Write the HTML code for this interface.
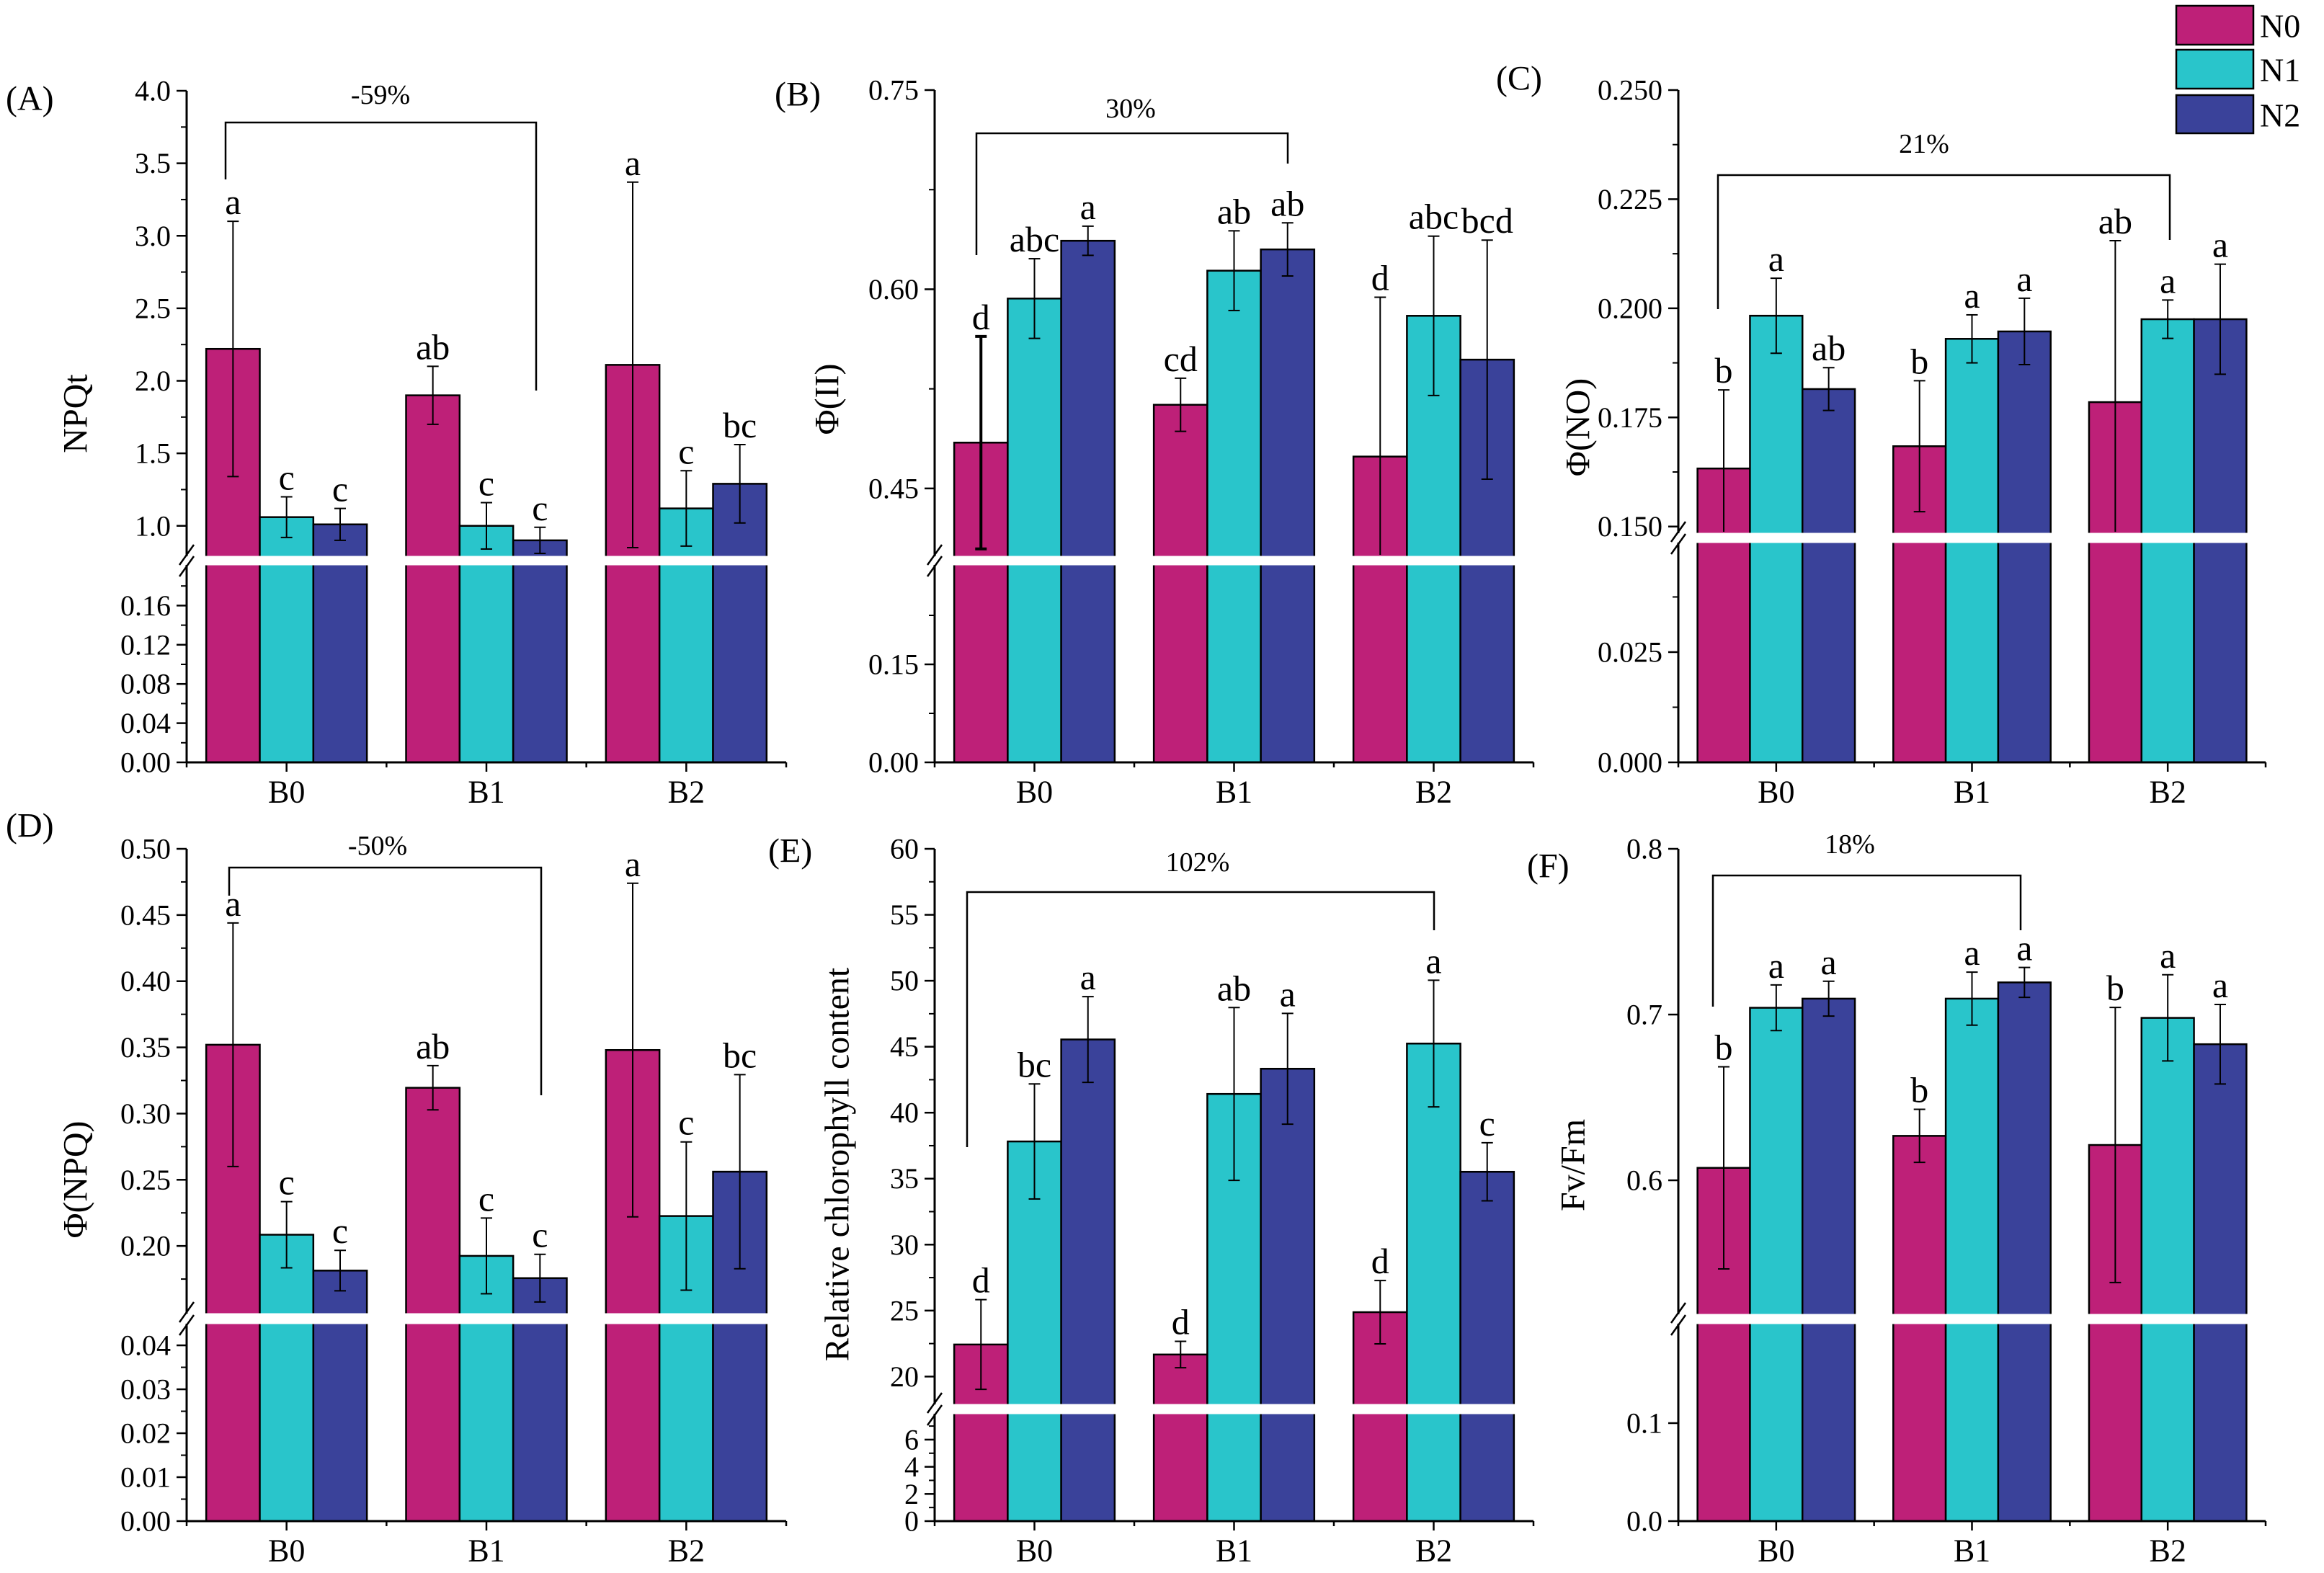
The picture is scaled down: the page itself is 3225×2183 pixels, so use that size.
<!DOCTYPE html>
<html><head><meta charset="utf-8">
<style>
html,body{margin:0;padding:0;background:#fff;}
svg{display:block;font-family:"Liberation Serif",serif;}
</style></head>
<body>
<svg id="fig" width="3225" height="2183" viewBox="0 0 3225 2183" xmlns="http://www.w3.org/2000/svg">
<rect x="0" y="0" width="3225" height="2183" fill="#fff"/>
<g>
<rect x="3020" y="8" width="107" height="54" fill="#BE2078" stroke="#000" stroke-width="2.5"/>
<text x="3136" y="36" font-size="46" dominant-baseline="central">N0</text>
<rect x="3020" y="69" width="107" height="54" fill="#29C5CB" stroke="#000" stroke-width="2.5"/>
<text x="3136" y="97" font-size="46" dominant-baseline="central">N1</text>
<rect x="3020" y="132" width="107" height="53" fill="#3A429A" stroke="#000" stroke-width="2.5"/>
<text x="3136" y="160" font-size="46" dominant-baseline="central">N2</text>
</g>
</svg>
<script>
const categories = ["B0","B1","B2"];
// Panel A NPQt
const A_N0 = [2.22, 1.90, 2.11], A_N1 = [1.06, 1.00, 1.12], A_N2 = [1.01, 0.90, 1.29];
const A_E0 = [0.88, 0.20, 1.26], A_E1 = [0.14, 0.16, 0.26], A_E2 = [0.11, 0.09, 0.27];
const A_L0 = ["a","ab","a"], A_L1 = ["c","c","c"], A_L2 = ["c","c","bc"];
const A_upTicks = [1.0,1.5,2.0,2.5,3.0,3.5,4.0], A_loTicks = [0,0.04,0.08,0.12,0.16];
// Panel B Φ(II)
const B_N0 = [0.4845, 0.513, 0.474], B_N1 = [0.593, 0.614, 0.580], B_N2 = [0.6365, 0.630, 0.547];
const B_E0 = [0.080, 0.020, 0.120], B_E1 = [0.030, 0.030, 0.060], B_E2 = [0.011, 0.020, 0.090];
const B_L0 = ["d","cd","d"], B_L1 = ["abc","ab","abc"], B_L2 = ["a","ab","bcd"];
const B_upTicks = [0.45,0.60,0.75], B_loTicks = [0,0.15];
// Panel C Φ(NO)
const C_N0 = [0.1633, 0.1684, 0.1785], C_N1 = [0.1983, 0.1930, 0.1975], C_N2 = [0.1815, 0.1947, 0.1975];
const C_E0 = [0.018, 0.015, 0.037], C_E1 = [0.0086, 0.0055, 0.0044], C_E2 = [0.0049, 0.0076, 0.0126];
const C_L0 = ["b","b","ab"], C_L1 = ["a","a","a"], C_L2 = ["ab","a","a"];
const C_upTicks = [0.150,0.175,0.200,0.225,0.250], C_loTicks = [0,0.025];
// Panel D Φ(NPQ)
const D_N0 = [0.352, 0.3195, 0.348], D_N1 = [0.2085, 0.1925, 0.2226], D_N2 = [0.1814, 0.1757, 0.2561];
const D_E0 = [0.092, 0.0167, 0.126], D_E1 = [0.025, 0.0286, 0.056], D_E2 = [0.0153, 0.018, 0.0733];
const D_L0 = ["a","ab","a"], D_L1 = ["c","c","c"], D_L2 = ["c","c","bc"];
const D_upTicks = [0.20,0.25,0.30,0.35,0.40,0.45,0.50], D_loTicks = [0,0.01,0.02,0.03,0.04];
// Panel E Relative chlorophyll content
const E_N0 = [22.43, 21.67, 24.88], E_N1 = [37.82, 41.42, 45.24], E_N2 = [45.55, 43.33, 35.52];
const E_E0 = [3.4, 1.0, 2.4], E_E1 = [4.36, 6.55, 4.8], E_E2 = [3.25, 4.2, 2.2];
const E_L0 = ["d","d","d"], E_L1 = ["bc","ab","a"], E_L2 = ["a","a","c"];
const E_upTicks = [20,25,30,35,40,45,50,55,60], E_loTicks = [0,2,4,6];
// Panel F Fv/Fm
const F_N0 = [0.6075, 0.6268, 0.6213], F_N1 = [0.7041, 0.7096, 0.698], F_N2 = [0.7096, 0.7194, 0.6821];
const F_E0 = [0.061, 0.016, 0.083], F_E1 = [0.0138, 0.016, 0.026], F_E2 = [0.0105, 0.009, 0.024];
const F_L0 = ["b","b","b"], F_L1 = ["a","a","a"], F_L2 = ["a","a","a"];
const F_upTicks = [0.6,0.7,0.8], F_loTicks = [0,0.1];

const NS = "http://www.w3.org/2000/svg";
const svg = document.getElementById("fig");
const COLORS = ["#BE2078","#29C5CB","#3A429A"];
function mk(tag, attrs, parent){
  const e = document.createElementNS(NS, tag);
  for (const k in attrs) e.setAttribute(k, attrs[k]);
  (parent||svg).appendChild(e);
  return e;
}
const panels = [
 {id:"a", tag:"(A)", tagX:8, tagY:137, title:"NPQt", titleX:105, titleY:574, ax:259, xe:1091,
  up:{min:0.80,max:4.0,yt:126,yb:770}, lo:{min:0,max:0.2,yt:786,yb:1058},
  upTicks:A_upTicks, upMinor:0.25, loTicks:A_loTicks, loMinor:0.02, upDec:1, loDec:2,
  vals:[A_N0,A_N1,A_N2], errs:[A_E0,A_E1,A_E2], lets:[A_L0,A_L1,A_L2],
  br:{x1:313,yl:249,x2:744,yr:542,yt:170,txt:"-59%",tx:528,ty:132}},
 {id:"b", tag:"(B)", tagX:1075, tagY:131, title:"Φ(II)", titleX:1148, titleY:554, ax:1297, xe:2128,
  up:{min:0.40,max:0.75,yt:125,yb:770}, lo:{min:0,max:0.30,yt:786,yb:1058},
  upTicks:B_upTicks, upMinor:0.075, loTicks:B_loTicks, loMinor:0.075, upDec:2, loDec:2,
  vals:[B_N0,B_N1,B_N2], errs:[B_E0,B_E1,B_E2], lets:[B_L0,B_L1,B_L2],
  br:{x1:1355,yl:354,x2:1787,yr:227,yt:185,txt:"30%",tx:1569,ty:151}},
 {id:"c", tag:"(C)", tagX:2076, tagY:109, title:"Φ(NO)", titleX:2190, titleY:593, ax:2329, xe:3144,
  up:{min:0.1488,max:0.25,yt:125,yb:738}, lo:{min:0,max:0.0495,yt:755,yb:1058},
  upTicks:C_upTicks, upMinor:0.0125, loTicks:C_loTicks, loMinor:0.0125, upDec:3, loDec:3,
  vals:[C_N0,C_N1,C_N2], errs:[C_E0,C_E1,C_E2], lets:[C_L0,C_L1,C_L2],
  br:{x1:2384,yl:429,x2:3011,yr:333,yt:243,txt:"21%",tx:2670,ty:200}},
 {id:"d", tag:"(D)", tagX:8, tagY:1146, title:"Φ(NPQ)", titleX:105, titleY:1637, ax:259, xe:1091,
  up:{min:0.15,max:0.50,yt:1178,yb:1821}, lo:{min:0,max:0.0446,yt:1839,yb:2111},
  upTicks:D_upTicks, upMinor:0.025, loTicks:D_loTicks, loMinor:0.005, upDec:2, loDec:2,
  vals:[D_N0,D_N1,D_N2], errs:[D_E0,D_E1,D_E2], lets:[D_L0,D_L1,D_L2],
  br:{x1:318,yl:1243,x2:751,yr:1520,yt:1204,txt:"-50%",tx:524,ty:1174}},
 {id:"e", tag:"(E)", tagX:1066, tagY:1181, title:"Relative chlorophyll content", titleX:1162, titleY:1616, ax:1297, xe:2128,
  up:{min:18,max:60,yt:1178,yb:1947}, lo:{min:0,max:7.8,yt:1964,yb:2111},
  upTicks:E_upTicks, upMinor:2.5, loTicks:E_loTicks, loMinor:1, upDec:0, loDec:0,
  vals:[E_N0,E_N1,E_N2], errs:[E_E0,E_E1,E_E2], lets:[E_L0,E_L1,E_L2],
  br:{x1:1342,yl:1592,x2:1990,yr:1291,yt:1238,txt:"102%",tx:1662,ty:1197}},
 {id:"f", tag:"(F)", tagX:2119, tagY:1202, title:"Fv/Fm", titleX:2183, titleY:1617, ax:2329, xe:3144,
  up:{min:0.52,max:0.8,yt:1178,yb:1822}, lo:{min:0,max:0.2,yt:1839,yb:2111},
  upTicks:F_upTicks, upMinor:0, loTicks:F_loTicks, loMinor:0, upDec:1, loDec:1,
  vals:[F_N0,F_N1,F_N2], errs:[F_E0,F_E1,F_E2], lets:[F_L0,F_L1,F_L2],
  br:{x1:2377,yl:1397,x2:2804,yr:1291,yt:1215,txt:"18%",tx:2567,ty:1172}}
];

panels.forEach(p => {
  const g = mk("g", {});
  
  
  const yUp = v => p.up.yb - (v - p.up.min) / (p.up.max - p.up.min) * (p.up.yb - p.up.yt);
  const yLo = v => p.lo.yb - (v - p.lo.min) / (p.lo.max - p.lo.min) * (p.lo.yb - p.lo.yt);
  const y = v => v >= p.up.min ? yUp(v) : (v <= p.lo.max ? yLo(v) : p.up.yb);
  const sp = (p.xe - p.ax) / 3;
  const bw = sp * 0.268;
  const cx = i => p.ax + sp * (i + 0.5);
  const bottom = p.lo.yb;

  p.vals.forEach((series, s) => {
    series.forEach((v, i) => {
      const x = cx(i) - 1.5 * bw + s * bw;
      const r = mk("rect", {x:x, y:y(v), width:bw, height:bottom - y(v), fill:COLORS[s], stroke:"#000", "stroke-width":2.5}, g);
      
      
    });
  });
  const gap = mk("rect", {x:p.ax - 4, y:p.up.yb + 1.5, width:p.xe - p.ax + 10, height:p.lo.yt - p.up.yb - 3, fill:"#fff"}, g);
  
  

  p.vals.forEach((series, s) => {
    series.forEach((v, i) => {
      const x = cx(i) - 1.5 * bw + s * bw + bw / 2;
      const e = p.errs[s][i];
      const top = y(v + e);
      const lowV = Math.max(v - e, p.up.min);
      const bot = yUp(lowV);
      const sw = (p.id === "b" && s === 0 && i === 0) ? 4 : 2;
      const eg = mk("g", {stroke:"#000", "stroke-width":sw}, g);
      
      
      mk("line", {x1:x, y1:top, x2:x, y2:bot}, eg);
      mk("line", {x1:x - 8, y1:top, x2:x + 8, y2:top}, eg);
      if (v - e >= p.up.min) mk("line", {x1:x - 8, y1:bot, x2:x + 8, y2:bot}, eg);
      const t = mk("text", {x:x, y:top - 10, "font-size":50, "text-anchor":"middle"}, g);
      t.textContent = p.lets[s][i];
      
      
    });
  });

  const ax = mk("g", {stroke:"#000", "stroke-width":3, fill:"none"}, g);
  
  
  mk("line", {x1:p.ax, y1:p.up.yt, x2:p.ax, y2:p.up.yb + 2}, ax);
  mk("line", {x1:p.ax, y1:p.lo.yt - 2, x2:p.ax, y2:bottom}, ax);
  mk("line", {x1:p.ax - 10, y1:p.up.yb + 14, x2:p.ax + 10, y2:p.up.yb - 14, "stroke-width":2.5}, ax);
  mk("line", {x1:p.ax - 10, y1:p.lo.yt + 14, x2:p.ax + 10, y2:p.lo.yt - 14, "stroke-width":2.5}, ax);
  const xa = mk("line", {x1:p.ax, y1:bottom, x2:p.xe, y2:bottom, stroke:"#000", "stroke-width":3}, g);
  
  

  const tickLabel = (v, yy, dec) => {
    mk("line", {x1:p.ax - 14, y1:yy, x2:p.ax, y2:yy, stroke:"#000", "stroke-width":2.5}, g);
    const t = mk("text", {x:p.ax - 22, y:yy, "font-size":40, "text-anchor":"end", "dominant-baseline":"central"}, g);
    t.textContent = v.toFixed(dec);
    
    
  };
  p.upTicks.forEach(v => tickLabel(v, yUp(v), p.upDec));
  p.loTicks.forEach(v => tickLabel(v, yLo(v), p.loDec));
  if (p.upMinor) for (let v = p.upTicks[0] - p.upMinor; v < p.up.max; v += p.upMinor * 2) {
    if (v > p.up.min) mk("line", {x1:p.ax - 8, y1:yUp(v), x2:p.ax, y2:yUp(v), stroke:"#000", "stroke-width":2}, g);
  }
  if (p.loMinor) for (let v = p.loMinor; v < p.lo.max; v += p.loMinor * 2) {
    mk("line", {x1:p.ax - 8, y1:yLo(v), x2:p.ax, y2:yLo(v), stroke:"#000", "stroke-width":2}, g);
  }
  for (let i = 0; i <= 3; i++) {
    const xx = p.ax + sp * i;
    mk("line", {x1:xx, y1:bottom, x2:xx, y2:bottom + 7, stroke:"#000", "stroke-width":2.5}, g);
  }
  categories.forEach((c, i) => {
    mk("line", {x1:cx(i), y1:bottom, x2:cx(i), y2:bottom + 13, stroke:"#000", "stroke-width":2.5}, g);
    const t = mk("text", {x:cx(i), y:bottom + 41, "font-size":44, "text-anchor":"middle", "dominant-baseline":"central"}, g);
    t.textContent = c;
    
    
  });
  const tt = mk("text", {x:p.titleX, y:p.titleY, "font-size":48, "text-anchor":"middle", "dominant-baseline":"central", transform:"rotate(-90 " + p.titleX + " " + p.titleY + ")"}, g);
  tt.textContent = p.title;
  
  
  const pl = mk("text", {x:p.tagX, y:p.tagY, "font-size":48, "dominant-baseline":"central"}, g);
  pl.textContent = p.tag;
  
  
  const b = p.br;
  const bp = mk("path", {d:"M" + b.x1 + " " + b.yl + " L" + b.x1 + " " + b.yt + " L" + b.x2 + " " + b.yt + " L" + b.x2 + " " + b.yr, stroke:"#000", "stroke-width":2.5, fill:"none"}, g);
  
  
  const bt = mk("text", {x:b.tx, y:b.ty, "font-size":38, "text-anchor":"middle", "dominant-baseline":"central"}, g);
  bt.textContent = b.txt;
  
  
});
</script>
</body></html>
